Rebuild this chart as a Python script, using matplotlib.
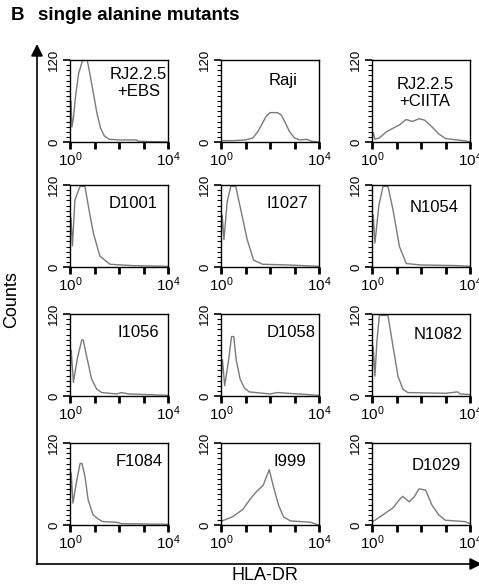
import matplotlib
matplotlib.use("Agg")
import matplotlib.pyplot as plt
import numpy as np
from matplotlib.ticker import LogLocator, MultipleLocator, FixedLocator

plt.rcParams['font.family'] = ['Liberation Sans', 'DejaVu Sans']

# histogram traces: log10(HLA-DR) positions and counts
labels = ["RJ2.2.5\n+EBS", "Raji", "RJ2.2.5\n+CIITA",
          "D1001", "I1027", "N1054",
          "I1056", "D1058", "N1082",
          "F1084", "I999", "D1029"]

ebs_x = [0.0, 0.04, 0.08, 0.14, 0.22, 0.35, 0.5, 0.56, 0.7, 0.8, 0.95, 1.1, 1.25, 1.4, 1.6, 2.0, 2.7, 2.8, 4.0]
ebs_y = [30, 60, 22, 35, 65, 100, 118, 120, 120, 102, 72, 42, 20, 9, 4, 3, 3, 1, 0]

raji_x = [0.0, 0.5, 1.0, 1.3, 1.5, 1.7, 1.85, 2.0, 2.3, 2.45, 2.6, 2.8, 3.0, 3.2, 3.5, 3.7, 4.0]
raji_y = [2, 2, 3, 6, 15, 28, 38, 43, 43, 40, 30, 15, 6, 3, 4, 1, 0]

ciita_x = [0.0, 0.05, 0.12, 0.3, 0.59, 0.85, 1.12, 1.39, 1.65, 1.92, 2.15, 2.45, 2.72, 3.0, 3.5, 3.9, 4.0]
ciita_y = [5, 14, 4, 6, 15, 20, 25, 33, 30, 34, 32, 22, 12, 5, 3, 1, 0]

d1001_x = [0.0, 0.04, 0.1, 0.2, 0.41, 0.61, 0.75, 0.95, 1.22, 1.63, 2.57, 4.0]
d1001_y = [40, 72, 31, 98, 118, 118, 89, 50, 16, 4, 2, 1]

i1027_x = [0.0, 0.05, 0.12, 0.25, 0.4, 0.6, 0.8, 1.07, 1.33, 1.7, 2.7, 4.0]
i1027_y = [40, 76, 40, 95, 118, 118, 85, 40, 10, 4, 3, 1]

n1054_x = [0.0, 0.05, 0.12, 0.28, 0.45, 0.65, 0.85, 1.12, 1.4, 2.0, 3.5, 4.0]
n1054_y = [40, 76, 35, 90, 118, 118, 85, 30, 5, 3, 2, 1]

i1056_x = [0.0, 0.05, 0.14, 0.3, 0.48, 0.54, 0.68, 0.88, 1.09, 1.3, 1.9, 2.1, 2.4, 4.0]
i1056_y = [30, 67, 20, 55, 82, 82, 58, 25, 10, 5, 3, 5, 3, 1]

d1058_x = [0.0, 0.06, 0.15, 0.3, 0.43, 0.52, 0.62, 0.78, 0.95, 1.15, 2.0, 2.3, 4.0]
d1058_y = [25, 53, 15, 50, 87, 87, 53, 25, 12, 6, 3, 5, 1]

n1082_x = [0.0, 0.05, 0.12, 0.2, 0.3, 0.65, 0.86, 1.06, 1.26, 1.46, 3.0, 3.5, 3.6, 4.0]
n1082_y = [30, 72, 29, 80, 118, 118, 72, 29, 10, 5, 4, 6, 3, 2]

f1084_x = [0.0, 0.05, 0.12, 0.25, 0.41, 0.49, 0.61, 0.74, 0.94, 1.14, 1.33, 1.9, 2.1, 4.0]
f1084_y = [35, 76, 32, 60, 90, 90, 71, 37, 15, 9, 5, 4, 2, 1]

i999_x = [0.0, 0.05, 0.47, 0.9, 1.17, 1.45, 1.72, 1.86, 1.97, 2.14, 2.35, 2.55, 2.83, 3.66, 3.9, 4.0]
i999_y = [3, 6, 12, 23, 37, 49, 58, 71, 81, 56, 29, 12, 6, 4, 1, 0]

d1029_x = [0.0, 0.04, 0.45, 0.85, 1.12, 1.25, 1.52, 1.72, 1.92, 2.19, 2.45, 2.72, 2.99, 3.79, 4.0]
d1029_y = [3, 5, 15, 25, 37, 42, 34, 41, 53, 51, 29, 15, 7, 5, 2]

traces = [(ebs_x, ebs_y), (raji_x, raji_y), (ciita_x, ciita_y),
          (d1001_x, d1001_y), (i1027_x, i1027_y), (n1054_x, n1054_y),
          (i1056_x, i1056_y), (d1058_x, d1058_y), (n1082_x, n1082_y),
          (f1084_x, f1084_y), (i999_x, i999_y), (d1029_x, d1029_y)]

# label anchor inside each panel (axes fraction)
label_pos = [(0.70, 0.72), (0.63, 0.75), (0.54, 0.60),
             (0.64, 0.78), (0.68, 0.78), (0.63, 0.72),
             (0.70, 0.78), (0.72, 0.78), (0.68, 0.75),
             (0.71, 0.78), (0.70, 0.78), (0.66, 0.72)]

W, H = 479, 586
fig = plt.figure(figsize=(W / 100, H / 100), dpi=100)

col_left = [70, 221, 372]
row_top = [60, 185, 314, 443]
pw, ph = 98, 82

for i, (lx, ly) in enumerate(traces):
    r, c = divmod(i, 3)
    ax = fig.add_axes([col_left[c] / W, 1 - (row_top[r] + ph) / H, pw / W, ph / H])
    ax.plot(10 ** np.array(lx), ly, color='#7a7a7a', lw=1.0)
    ax.set_xscale('log')
    ax.set_xlim(1, 1e4)
    ax.set_ylim(0, 120)
    ax.xaxis.set_major_locator(FixedLocator([1, 10, 100, 1000, 10000]))
    ax.xaxis.set_minor_locator(LogLocator(base=10, subs=np.arange(2, 10)))
    ax.set_xticklabels([r'$\mathregular{10^0}$', '', '', '', r'$\mathregular{10^4}$'])
    ax.yaxis.set_major_locator(FixedLocator([0, 120]))
    ax.yaxis.set_minor_locator(MultipleLocator(7.5))
    ax.set_yticklabels(['0', '120'], rotation=90, va='center')
    ax.tick_params(which='major', length=5, width=1.2, labelsize=9.5, pad=2)
    ax.tick_params(which='minor', length=3, width=0.8)
    ax.tick_params(axis='x', which='major', width=2, labelsize=11, pad=1)
    for s in ax.spines.values():
        s.set_linewidth(1.0)
    px, py = label_pos[i]
    ax.text(px, py, labels[i], transform=ax.transAxes, ha='center', va='center',
            fontsize=12, linespacing=1.15)

# big axis arrows
ax0 = fig.add_axes([0, 0, 1, 1], facecolor='none')
ax0.set_xlim(0, W)
ax0.set_ylim(H, 0)
ax0.axis('off')
ax0.annotate('', xy=(37, 44), xytext=(37, 564), annotation_clip=False,
             arrowprops=dict(arrowstyle='-|>', color='black', lw=1.2,
                             mutation_scale=18, shrinkA=0, shrinkB=0))
ax0.annotate('', xy=(482, 564), xytext=(36.4, 564), annotation_clip=False,
             arrowprops=dict(arrowstyle='-|>', color='black', lw=1.2,
                             mutation_scale=18, shrinkA=0, shrinkB=0))

ax0.text(12, 300, 'Counts', rotation=90, ha='center', va='center', fontsize=13)
ax0.text(265, 576, 'HLA-DR', ha='center', va='center', fontsize=13)
ax0.text(11, 16, 'B', ha='left', va='center', fontsize=13.5, fontweight='bold')
ax0.text(38, 16, 'single alanine mutants', ha='left', va='center', fontsize=13.5,
         fontweight='bold')

fig.savefig('out.png', dpi=100)
